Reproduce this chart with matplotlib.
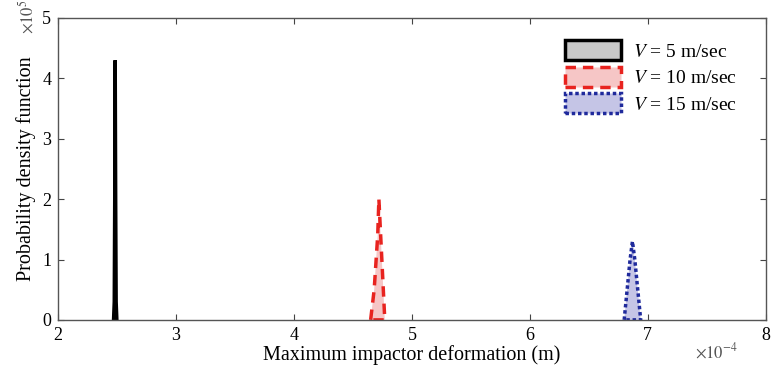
import numpy as np
import matplotlib.pyplot as plt

plt.rcParams['font.family'] = ['Liberation Serif', 'DejaVu Serif']
plt.rcParams['mathtext.fontset'] = 'stix'

# deformation (x1e-4 m) and pdf (x1e5)
x_v5 = [2.470, 2.476, 2.480, 2.484, 2.488, 2.492, 2.498]
pdf_v5 = [0.0, 0.3, 2.0, 4.3, 2.0, 0.3, 0.0]
x_v10 = [4.65, 4.68, 4.71, 4.72, 4.74, 4.76, 4.77]
pdf_v10 = [0.0, 0.5, 1.4, 2.0, 1.2, 0.4, 0.0]
x_v15 = [6.80, 6.82, 6.85, 6.87, 6.89, 6.92, 6.94]
pdf_v15 = [0.0, 0.4, 1.0, 1.3, 1.0, 0.4, 0.0]
labels = ['$V$ = 5 m/sec', '$V$ = 10 m/sec', '$V$ = 15 m/sec']

fig = plt.figure(figsize=(7.75, 3.75), dpi=100)
ax = fig.add_axes([0.075, 0.147, 0.913, 0.805])

ax.fill(x_v5, pdf_v5, facecolor='#c8c8c8', edgecolor='black', lw=2.5,
        ls='-', label=labels[0])
ax.fill(x_v10, pdf_v10, facecolor='#f6c6c6', edgecolor='#e8231f', lw=2.5,
        ls=(0, (3, 2)), label=labels[1])
ax.fill(x_v15, pdf_v15, facecolor='#c5c5e6', edgecolor='#1f2a9c', lw=2.5,
        ls=(0, (1, 0.8)), label=labels[2])

ax.set_xlim(2, 8)
ax.set_ylim(0, 5)
ax.set_xticks(np.arange(2, 9))
ax.set_yticks(np.arange(0, 6))
ax.tick_params(direction='in', top=True, right=True, labelsize=13,
               length=4, color='#444444', pad=5)
for s in ax.spines.values():
    s.set_color('#555555')
    s.set_linewidth(1.0)

ax.set_xlabel('Maximum impactor deformation (m)', fontsize=14.5, labelpad=1)
ax.set_ylabel('Probability density function', fontsize=14.5, labelpad=4)

fig.text(0.035, 0.955, r'$\times 10^{5}$', rotation=90, fontsize=12,
         color='#555555', ha='center', va='center')
fig.text(0.925, 0.06, r'$\times 10^{-4}$', fontsize=12, color='#555555',
         ha='center', va='center')

leg = ax.legend(loc='upper right', bbox_to_anchor=(0.987, 0.99),
                frameon=False, fontsize=14,
                handlelength=2.9, handleheight=1.2, labelspacing=0.3,
                handletextpad=0.6, borderaxespad=0.6)

fig.savefig('out.png', dpi=100)
